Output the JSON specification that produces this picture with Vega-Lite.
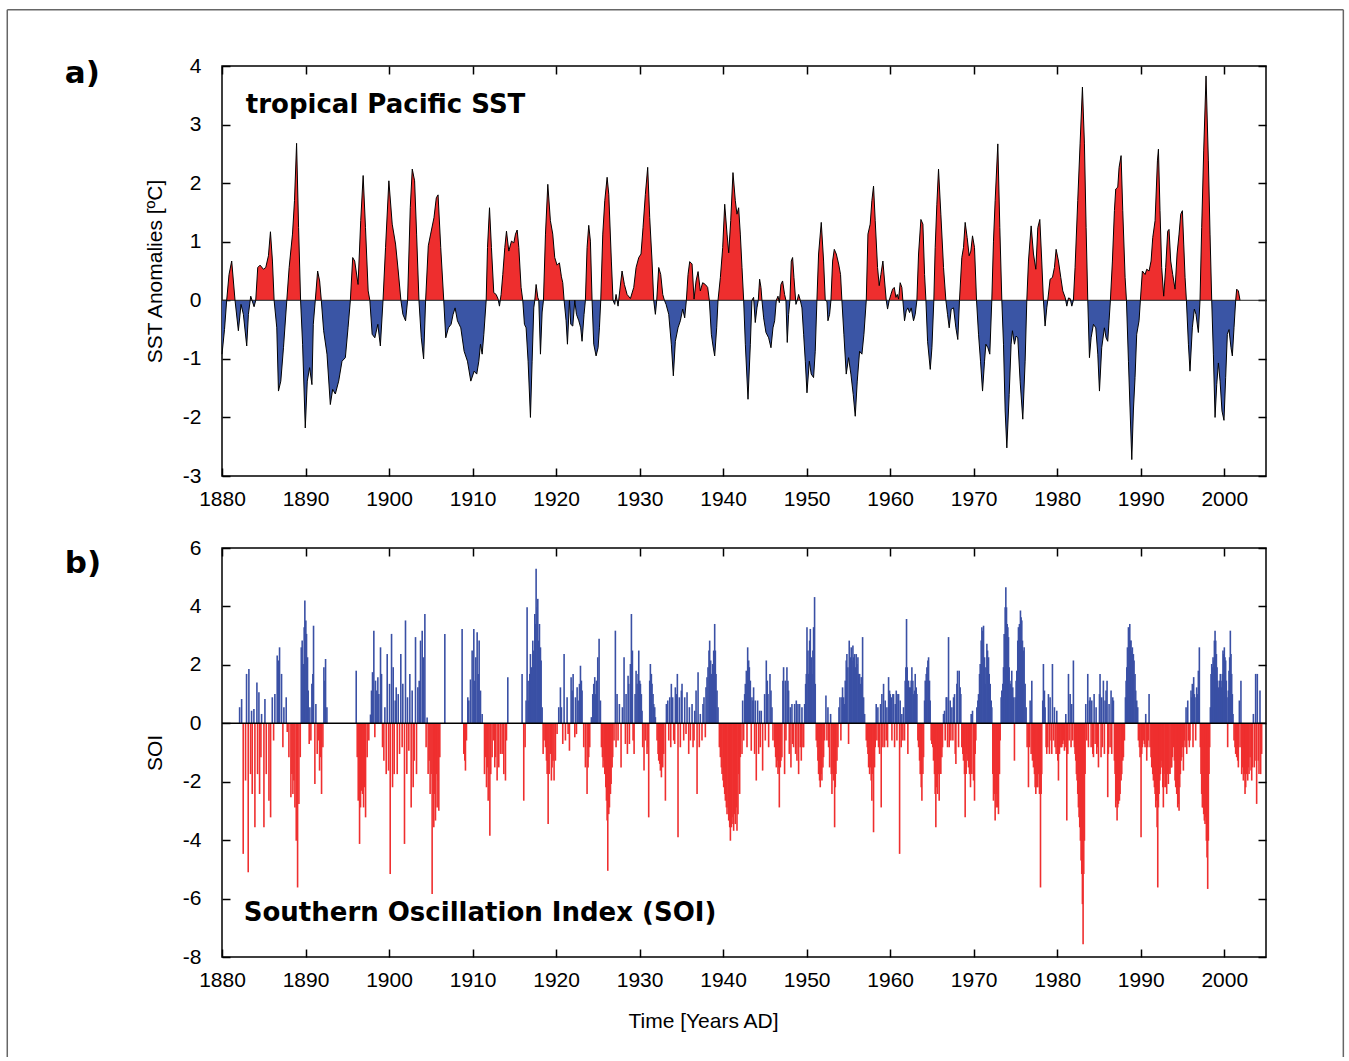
{
"$schema": "https://vega.github.io/schema/vega-lite/v6.json",
"background": "white",
"padding": {"left": 5, "top": 8, "right": 0, "bottom": 0},
"bounds": "flush",
"spacing": 72,
"config": {
  "view": {"stroke": "#000", "strokeWidth": 1.5},
  "axis": {"domain": false, "grid": false, "ticks": true, "tickSize": -8, "tickWidth": 1.5, "tickColor": "#000",
    "labelFont": "Liberation Sans", "labelFontSize": 21, "labelColor": "#000", "labelFlush": false, "labelOverlap": false,
    "titleFont": "Liberation Sans", "titleFontSize": 21, "titleFontWeight": "normal", "titleColor": "#000"}
},
"datasets": {
"sst": [
{"t":1880.0,"v":-0.92},{"t":1880.3,"v":-0.5},{"t":1880.56,"v":0},{"t":1880.84,"v":0.44},{"t":1881.16,"v":0.67},{"t":1881.56,"v":0},{"t":1881.96,"v":-0.52},{"t":1882.28,"v":-0.07},{"t":1882.56,"v":-0.24},{"t":1882.96,"v":-0.78},{"t":1883.16,"v":-0.24},{"t":1883.44,"v":0.07},{"t":1883.84,"v":-0.11},{"t":1884.04,"v":0},{"t":1884.28,"v":0.56},{"t":1884.56,"v":0.6},{"t":1884.96,"v":0.53},{"t":1885.24,"v":0.56},{"t":1885.56,"v":0.76},{"t":1885.8,"v":1.17},{"t":1886.04,"v":0.67},{"t":1886.24,"v":0},{"t":1886.56,"v":-0.47},{"t":1886.76,"v":-1.55},{"t":1887.04,"v":-1.38},{"t":1887.36,"v":-0.81},{"t":1887.76,"v":0},{"t":1888.04,"v":0.56},{"t":1888.44,"v":1.13},{"t":1888.68,"v":1.7},{"t":1888.93,"v":2.68},{"t":1889.17,"v":1.24},{"t":1889.41,"v":0},{"t":1889.65,"v":-0.75},{"t":1889.97,"v":-2.18},{"t":1890.21,"v":-1.38},{"t":1890.49,"v":-1.15},{"t":1890.77,"v":-1.44},{"t":1890.93,"v":-0.41},{"t":1891.17,"v":0},{"t":1891.45,"v":0.5},{"t":1891.69,"v":0.33},{"t":1891.89,"v":0},{"t":1892.17,"v":-0.52},{"t":1892.57,"v":-0.92},{"t":1892.97,"v":-1.78},{"t":1893.25,"v":-1.52},{"t":1893.57,"v":-1.6},{"t":1893.97,"v":-1.38},{"t":1894.37,"v":-1.04},{"t":1894.77,"v":-0.98},{"t":1895.09,"v":-0.47},{"t":1895.37,"v":0},{"t":1895.65,"v":0.73},{"t":1895.89,"v":0.67},{"t":1896.29,"v":0.27},{"t":1896.61,"v":1.36},{"t":1896.9,"v":2.13},{"t":1897.18,"v":1.24},{"t":1897.5,"v":0.16},{"t":1897.7,"v":0},{"t":1897.98,"v":-0.58},{"t":1898.3,"v":-0.64},{"t":1898.66,"v":-0.41},{"t":1898.96,"v":-0.78},{"t":1899.28,"v":0},{"t":1899.58,"v":0.9},{"t":1899.98,"v":2.04},{"t":1900.38,"v":1.3},{"t":1900.78,"v":0.96},{"t":1901.1,"v":0.5},{"t":1901.42,"v":0},{"t":1901.66,"v":-0.24},{"t":1901.98,"v":-0.35},{"t":1902.22,"v":0},{"t":1902.54,"v":1.58},{"t":1902.78,"v":2.24},{"t":1903.06,"v":2.04},{"t":1903.3,"v":1.13},{"t":1903.58,"v":0},{"t":1903.86,"v":-0.64},{"t":1904.14,"v":-1.0},{"t":1904.38,"v":0},{"t":1904.7,"v":0.93},{"t":1904.98,"v":1.13},{"t":1905.38,"v":1.41},{"t":1905.66,"v":1.75},{"t":1905.87,"v":1.8},{"t":1906.19,"v":0.9},{"t":1906.55,"v":0},{"t":1906.79,"v":-0.64},{"t":1907.11,"v":-0.47},{"t":1907.43,"v":-0.41},{"t":1907.67,"v":-0.24},{"t":1907.91,"v":-0.13},{"t":1908.19,"v":-0.35},{"t":1908.59,"v":-0.47},{"t":1908.99,"v":-0.87},{"t":1909.39,"v":-1.04},{"t":1909.79,"v":-1.38},{"t":1910.19,"v":-1.21},{"t":1910.5,"v":-1.26},{"t":1910.75,"v":-1.04},{"t":1910.95,"v":-0.75},{"t":1911.15,"v":-0.92},{"t":1911.35,"v":-0.58},{"t":1911.63,"v":0},{"t":1911.79,"v":0.9},{"t":1912.03,"v":1.58},{"t":1912.26,"v":0.9},{"t":1912.54,"v":0.13},{"t":1912.82,"v":0.1},{"t":1913.06,"v":0.02},{"t":1913.22,"v":-0.1},{"t":1913.42,"v":0.1},{"t":1913.62,"v":0.44},{"t":1913.86,"v":0.9},{"t":1914.06,"v":1.18},{"t":1914.34,"v":0.84},{"t":1914.66,"v":1.01},{"t":1914.94,"v":0.98},{"t":1915.14,"v":1.13},{"t":1915.34,"v":1.2},{"t":1915.54,"v":0.9},{"t":1915.81,"v":0.22},{"t":1916.01,"v":0},{"t":1916.21,"v":-0.41},{"t":1916.41,"v":-0.47},{"t":1916.65,"v":-1.04},{"t":1916.93,"v":-2.0},{"t":1917.13,"v":-1.04},{"t":1917.33,"v":-0.13},{"t":1917.45,"v":0},{"t":1917.61,"v":0.27},{"t":1917.81,"v":0.05},{"t":1917.93,"v":0},{"t":1918.13,"v":-0.92},{"t":1918.33,"v":-0.2},{"t":1918.49,"v":0},{"t":1918.73,"v":1.13},{"t":1919.01,"v":1.98},{"t":1919.32,"v":1.36},{"t":1919.6,"v":1.13},{"t":1919.84,"v":0.73},{"t":1920.12,"v":0.6},{"t":1920.4,"v":0.64},{"t":1920.64,"v":0.4},{"t":1920.8,"v":0.3},{"t":1920.96,"v":0},{"t":1921.2,"v":-0.35},{"t":1921.36,"v":-0.75},{"t":1921.6,"v":0},{"t":1921.76,"v":-0.41},{"t":1922.0,"v":-0.44},{"t":1922.24,"v":0},{"t":1922.44,"v":-0.24},{"t":1922.72,"v":-0.35},{"t":1922.95,"v":-0.47},{"t":1923.11,"v":-0.7},{"t":1923.35,"v":-0.24},{"t":1923.51,"v":0},{"t":1923.71,"v":0.9},{"t":1923.91,"v":1.28},{"t":1924.11,"v":1.01},{"t":1924.31,"v":0},{"t":1924.51,"v":-0.75},{"t":1924.79,"v":-0.95},{"t":1925.03,"v":-0.81},{"t":1925.19,"v":-0.47},{"t":1925.35,"v":0},{"t":1925.59,"v":1.13},{"t":1925.83,"v":1.7},{"t":1926.11,"v":2.1},{"t":1926.31,"v":1.81},{"t":1926.62,"v":0.67},{"t":1926.82,"v":0},{"t":1927.02,"v":-0.07},{"t":1927.18,"v":0.1},{"t":1927.42,"v":-0.1},{"t":1927.62,"v":0.16},{"t":1927.9,"v":0.5},{"t":1928.18,"v":0.27},{"t":1928.5,"v":0.1},{"t":1928.9,"v":0.03},{"t":1929.3,"v":0.22},{"t":1929.58,"v":0.56},{"t":1929.9,"v":0.73},{"t":1930.17,"v":0.79},{"t":1930.41,"v":1.24},{"t":1930.69,"v":1.81},{"t":1930.97,"v":2.27},{"t":1931.21,"v":1.41},{"t":1931.49,"v":0.67},{"t":1931.69,"v":0},{"t":1931.89,"v":-0.24},{"t":1932.05,"v":0},{"t":1932.29,"v":0.56},{"t":1932.53,"v":0.44},{"t":1932.77,"v":0.1},{"t":1932.97,"v":0},{"t":1933.17,"v":-0.07},{"t":1933.49,"v":-0.24},{"t":1933.8,"v":-0.75},{"t":1934.04,"v":-1.29},{"t":1934.28,"v":-0.7},{"t":1934.6,"v":-0.47},{"t":1934.88,"v":-0.35},{"t":1935.16,"v":-0.15},{"t":1935.4,"v":-0.3},{"t":1935.6,"v":0},{"t":1935.8,"v":0.44},{"t":1936.0,"v":0.66},{"t":1936.28,"v":0.62},{"t":1936.52,"v":0.02},{"t":1936.76,"v":0.33},{"t":1937.0,"v":0.49},{"t":1937.27,"v":0.16},{"t":1937.55,"v":0.3},{"t":1937.87,"v":0.27},{"t":1938.15,"v":0.22},{"t":1938.35,"v":0},{"t":1938.59,"v":-0.58},{"t":1938.79,"v":-0.78},{"t":1938.99,"v":-0.95},{"t":1939.23,"v":-0.47},{"t":1939.39,"v":0},{"t":1939.67,"v":0.39},{"t":1939.95,"v":0.9},{"t":1940.19,"v":1.64},{"t":1940.47,"v":1.13},{"t":1940.67,"v":0.81},{"t":1940.91,"v":1.36},{"t":1941.18,"v":2.18},{"t":1941.46,"v":1.7},{"t":1941.66,"v":1.47},{"t":1941.86,"v":1.58},{"t":1942.06,"v":1.13},{"t":1942.26,"v":0.56},{"t":1942.46,"v":0},{"t":1942.66,"v":-0.75},{"t":1942.98,"v":-1.69},{"t":1943.26,"v":-0.75},{"t":1943.45,"v":0},{"t":1943.65,"v":0.05},{"t":1943.85,"v":-0.38},{"t":1944.05,"v":-0.13},{"t":1944.21,"v":0},{"t":1944.37,"v":0.36},{"t":1944.53,"v":0.22},{"t":1944.65,"v":0},{"t":1944.85,"v":-0.3},{"t":1945.13,"v":-0.55},{"t":1945.45,"v":-0.64},{"t":1945.73,"v":-0.81},{"t":1945.97,"v":-0.47},{"t":1946.17,"v":-0.35},{"t":1946.37,"v":0},{"t":1946.57,"v":0.07},{"t":1946.73,"v":-0.04},{"t":1946.92,"v":0.27},{"t":1947.12,"v":0.33},{"t":1947.36,"v":0.1},{"t":1947.52,"v":0},{"t":1947.68,"v":-0.72},{"t":1947.84,"v":-0.24},{"t":1948.0,"v":0},{"t":1948.16,"v":0.67},{"t":1948.32,"v":0.73},{"t":1948.48,"v":0.39},{"t":1948.72,"v":-0.07},{"t":1948.88,"v":0},{"t":1949.04,"v":0.1},{"t":1949.24,"v":0},{"t":1949.44,"v":-0.13},{"t":1949.64,"v":-0.58},{"t":1949.84,"v":-1.04},{"t":1950.04,"v":-1.58},{"t":1950.32,"v":-1.04},{"t":1950.55,"v":-1.26},{"t":1950.83,"v":-1.32},{"t":1951.03,"v":-0.87},{"t":1951.23,"v":0},{"t":1951.43,"v":0.79},{"t":1951.75,"v":1.33},{"t":1952.03,"v":0.67},{"t":1952.23,"v":0},{"t":1952.43,"v":-0.02},{"t":1952.55,"v":-0.35},{"t":1952.75,"v":-0.24},{"t":1952.91,"v":0},{"t":1953.11,"v":0.67},{"t":1953.31,"v":0.87},{"t":1953.55,"v":0.79},{"t":1953.83,"v":0.62},{"t":1954.06,"v":0.44},{"t":1954.22,"v":0},{"t":1954.46,"v":-0.58},{"t":1954.74,"v":-1.26},{"t":1955.02,"v":-0.98},{"t":1955.3,"v":-1.26},{"t":1955.58,"v":-1.61},{"t":1955.82,"v":-1.98},{"t":1956.06,"v":-1.38},{"t":1956.34,"v":-0.87},{"t":1956.62,"v":-0.92},{"t":1956.86,"v":-0.58},{"t":1957.14,"v":0},{"t":1957.34,"v":1.13},{"t":1957.61,"v":1.3},{"t":1957.81,"v":1.7},{"t":1958.01,"v":1.95},{"t":1958.21,"v":1.36},{"t":1958.49,"v":0.56},{"t":1958.69,"v":0.25},{"t":1958.89,"v":0.44},{"t":1959.13,"v":0.67},{"t":1959.33,"v":0.33},{"t":1959.53,"v":0},{"t":1959.69,"v":-0.15},{"t":1959.89,"v":0},{"t":1960.09,"v":0.1},{"t":1960.29,"v":0.19},{"t":1960.49,"v":0.22},{"t":1960.69,"v":0.05},{"t":1960.85,"v":0.1},{"t":1961.01,"v":0.02},{"t":1961.2,"v":0.3},{"t":1961.4,"v":0.22},{"t":1961.52,"v":0},{"t":1961.72,"v":-0.35},{"t":1961.92,"v":-0.18},{"t":1962.12,"v":-0.13},{"t":1962.32,"v":-0.21},{"t":1962.52,"v":-0.13},{"t":1962.8,"v":-0.35},{"t":1963.0,"v":-0.24},{"t":1963.2,"v":0},{"t":1963.4,"v":0.79},{"t":1963.68,"v":1.38},{"t":1963.92,"v":1.3},{"t":1964.12,"v":0.44},{"t":1964.28,"v":0},{"t":1964.48,"v":-0.7},{"t":1964.8,"v":-1.18},{"t":1965.0,"v":-0.81},{"t":1965.23,"v":0},{"t":1965.39,"v":0.9},{"t":1965.59,"v":1.64},{"t":1965.79,"v":2.24},{"t":1966.07,"v":1.47},{"t":1966.39,"v":0.56},{"t":1966.67,"v":0},{"t":1966.87,"v":-0.24},{"t":1967.07,"v":-0.47},{"t":1967.31,"v":-0.15},{"t":1967.59,"v":-0.13},{"t":1967.87,"v":-0.47},{"t":1968.1,"v":-0.67},{"t":1968.3,"v":0},{"t":1968.58,"v":0.73},{"t":1968.78,"v":0.9},{"t":1968.98,"v":1.33},{"t":1969.22,"v":1.07},{"t":1969.46,"v":0.76},{"t":1969.66,"v":0.84},{"t":1969.86,"v":1.1},{"t":1970.1,"v":0.9},{"t":1970.34,"v":0},{"t":1970.58,"v":-0.58},{"t":1970.82,"v":-1.04},{"t":1971.06,"v":-1.55},{"t":1971.3,"v":-1.04},{"t":1971.46,"v":-0.75},{"t":1971.7,"v":-0.81},{"t":1971.93,"v":-0.92},{"t":1972.17,"v":0},{"t":1972.37,"v":1.01},{"t":1972.57,"v":1.7},{"t":1972.89,"v":2.67},{"t":1973.13,"v":1.24},{"t":1973.37,"v":0},{"t":1973.57,"v":-0.75},{"t":1973.77,"v":-1.89},{"t":1973.97,"v":-2.52},{"t":1974.25,"v":-1.61},{"t":1974.48,"v":-0.75},{"t":1974.64,"v":-0.52},{"t":1974.88,"v":-0.75},{"t":1975.08,"v":-0.61},{"t":1975.28,"v":-0.64},{"t":1975.56,"v":-1.38},{"t":1975.88,"v":-2.03},{"t":1976.16,"v":-1.04},{"t":1976.36,"v":0},{"t":1976.56,"v":0.67},{"t":1976.88,"v":1.27},{"t":1977.16,"v":0.79},{"t":1977.44,"v":0.53},{"t":1977.68,"v":1.24},{"t":1977.92,"v":1.38},{"t":1978.15,"v":0.67},{"t":1978.35,"v":0},{"t":1978.55,"v":-0.44},{"t":1978.75,"v":-0.13},{"t":1978.87,"v":0},{"t":1979.15,"v":0.36},{"t":1979.43,"v":0.39},{"t":1979.67,"v":0.56},{"t":1979.87,"v":0.87},{"t":1980.15,"v":0.67},{"t":1980.43,"v":0.39},{"t":1980.67,"v":0.16},{"t":1980.95,"v":0.05},{"t":1981.15,"v":-0.1},{"t":1981.35,"v":0.04},{"t":1981.55,"v":0.03},{"t":1981.75,"v":-0.1},{"t":1981.94,"v":0},{"t":1982.14,"v":0.56},{"t":1982.46,"v":1.7},{"t":1982.74,"v":2.67},{"t":1983.02,"v":3.64},{"t":1983.26,"v":2.67},{"t":1983.46,"v":1.24},{"t":1983.66,"v":0},{"t":1983.86,"v":-0.98},{"t":1984.06,"v":-0.64},{"t":1984.34,"v":-0.41},{"t":1984.62,"v":-0.47},{"t":1984.86,"v":-0.92},{"t":1985.06,"v":-1.55},{"t":1985.33,"v":-0.81},{"t":1985.65,"v":-0.47},{"t":1985.85,"v":-0.64},{"t":1986.05,"v":-0.7},{"t":1986.21,"v":-0.35},{"t":1986.37,"v":0},{"t":1986.61,"v":0.67},{"t":1986.85,"v":1.53},{"t":1987.01,"v":1.9},{"t":1987.25,"v":1.93},{"t":1987.41,"v":2.27},{"t":1987.65,"v":2.47},{"t":1987.85,"v":1.53},{"t":1988.13,"v":0.39},{"t":1988.29,"v":0},{"t":1988.53,"v":-1.04},{"t":1988.73,"v":-1.89},{"t":1988.93,"v":-2.72},{"t":1989.12,"v":-1.89},{"t":1989.32,"v":-1.32},{"t":1989.52,"v":-0.58},{"t":1989.8,"v":-0.35},{"t":1989.96,"v":0},{"t":1990.2,"v":0.5},{"t":1990.52,"v":0.44},{"t":1990.72,"v":0.53},{"t":1991.0,"v":0.5},{"t":1991.24,"v":0.67},{"t":1991.44,"v":1.07},{"t":1991.72,"v":1.36},{"t":1992.0,"v":2.38},{"t":1992.12,"v":2.58},{"t":1992.31,"v":1.53},{"t":1992.51,"v":0.56},{"t":1992.75,"v":0.07},{"t":1992.99,"v":0.56},{"t":1993.23,"v":1.18},{"t":1993.39,"v":1.21},{"t":1993.59,"v":0.67},{"t":1993.83,"v":0.44},{"t":1994.11,"v":0.19},{"t":1994.35,"v":0.79},{"t":1994.59,"v":1.13},{"t":1994.79,"v":1.47},{"t":1994.99,"v":1.53},{"t":1995.15,"v":0.96},{"t":1995.31,"v":0.39},{"t":1995.47,"v":0},{"t":1995.71,"v":-0.75},{"t":1995.9,"v":-1.21},{"t":1996.18,"v":-0.47},{"t":1996.42,"v":-0.15},{"t":1996.62,"v":-0.24},{"t":1996.9,"v":-0.55},{"t":1997.1,"v":0},{"t":1997.3,"v":1.24},{"t":1997.54,"v":2.55},{"t":1997.82,"v":3.83},{"t":1998.1,"v":2.38},{"t":1998.3,"v":1.13},{"t":1998.5,"v":0},{"t":1998.7,"v":-0.92},{"t":1998.9,"v":-2.0},{"t":1999.1,"v":-1.44},{"t":1999.3,"v":-1.07},{"t":1999.5,"v":-1.38},{"t":1999.73,"v":-1.89},{"t":1999.97,"v":-2.05},{"t":2000.17,"v":-1.32},{"t":2000.37,"v":-0.58},{"t":2000.57,"v":-0.5},{"t":2000.81,"v":-0.81},{"t":2000.97,"v":-0.95},{"t":2001.17,"v":-0.47},{"t":2001.37,"v":0},{"t":2001.49,"v":0.19},{"t":2001.69,"v":0.16},{"t":2001.89,"v":0}
],
"soi": [
{"t":1882.11,"v":0.55},{"t":1882.35,"v":0.83},{"t":1882.54,"v":-4.47},{"t":1882.82,"v":-1.96},{"t":1882.94,"v":1.69},{"t":1883.14,"v":-5.1},{"t":1883.22,"v":1.86},{"t":1883.42,"v":-1.74},{"t":1883.54,"v":0.43},{"t":1883.62,"v":-2.42},{"t":1883.82,"v":0.49},{"t":1883.94,"v":-3.56},{"t":1884.18,"v":1.4},{"t":1884.26,"v":-1.74},{"t":1884.42,"v":1.06},{"t":1884.5,"v":-2.42},{"t":1884.66,"v":-1.16},{"t":1884.74,"v":0.32},{"t":1885.02,"v":-3.56},{"t":1885.14,"v":0.83},{"t":1885.3,"v":-1.74},{"t":1885.62,"v":-2.65},{"t":1885.82,"v":-3.22},{"t":1886.02,"v":0.89},{"t":1886.18,"v":-0.59},{"t":1886.33,"v":1.0},{"t":1886.61,"v":2.32},{"t":1886.77,"v":2.15},{"t":1886.89,"v":2.6},{"t":1887.13,"v":1.69},{"t":1887.29,"v":-0.82},{"t":1887.41,"v":0.55},{"t":1887.69,"v":0.89},{"t":1887.81,"v":-0.3},{"t":1888.01,"v":-1.16},{"t":1888.25,"v":-2.53},{"t":1888.37,"v":-1.74},{"t":1888.49,"v":-2.42},{"t":1888.61,"v":-1.96},{"t":1888.73,"v":-2.88},{"t":1888.89,"v":-4.02},{"t":1889.05,"v":-5.62},{"t":1889.21,"v":-2.76},{"t":1889.37,"v":-1.16},{"t":1889.49,"v":2.6},{"t":1889.6,"v":2.83},{"t":1889.72,"v":2.03},{"t":1889.84,"v":3.29},{"t":1889.92,"v":4.2},{"t":1890.04,"v":3.52},{"t":1890.12,"v":3.06},{"t":1890.24,"v":2.26},{"t":1890.32,"v":1.12},{"t":1890.44,"v":-0.71},{"t":1890.52,"v":0.55},{"t":1890.64,"v":-0.59},{"t":1890.76,"v":1.35},{"t":1890.88,"v":1.69},{"t":1890.96,"v":3.34},{"t":1891.12,"v":-2.08},{"t":1891.24,"v":0.66},{"t":1891.4,"v":-1.05},{"t":1891.52,"v":-0.59},{"t":1891.68,"v":-1.62},{"t":1891.8,"v":-1.16},{"t":1891.92,"v":-2.42},{"t":1892.08,"v":-0.82},{"t":1892.2,"v":1.92},{"t":1892.32,"v":1.46},{"t":1892.4,"v":2.2},{"t":1892.56,"v":0.55},
{"t":1896.07,"v":1.8},{"t":1896.19,"v":-1.16},{"t":1896.31,"v":-2.65},{"t":1896.47,"v":-4.13},{"t":1896.59,"v":-2.88},{"t":1896.71,"v":-2.31},{"t":1896.83,"v":-2.42},{"t":1896.95,"v":-2.88},{"t":1897.07,"v":-2.19},{"t":1897.19,"v":-3.22},{"t":1897.38,"v":-1.16},{"t":1897.58,"v":-0.59},{"t":1897.78,"v":0.3},{"t":1897.9,"v":1.12},{"t":1898.02,"v":1.75},{"t":1898.18,"v":3.17},{"t":1898.3,"v":-0.48},{"t":1898.38,"v":1.46},{"t":1898.54,"v":1.12},{"t":1898.66,"v":1.58},{"t":1898.78,"v":1.0},{"t":1898.98,"v":2.6},{"t":1899.1,"v":1.69},{"t":1899.22,"v":-0.82},{"t":1899.38,"v":-1.28},{"t":1899.5,"v":0.55},{"t":1899.66,"v":-1.74},{"t":1899.78,"v":2.37},{"t":1899.94,"v":-1.62},{"t":1900.06,"v":1.35},{"t":1900.14,"v":-5.16},{"t":1900.3,"v":3.06},{"t":1900.42,"v":-2.19},{"t":1900.5,"v":1.92},{"t":1900.62,"v":-1.74},{"t":1900.74,"v":0.78},{"t":1900.86,"v":1.23},{"t":1900.98,"v":-1.74},{"t":1901.1,"v":1.0},{"t":1901.26,"v":-1.05},{"t":1901.41,"v":2.37},{"t":1901.57,"v":-0.82},{"t":1901.65,"v":1.35},{"t":1901.85,"v":-4.13},{"t":1901.97,"v":3.52},{"t":1902.13,"v":-1.74},{"t":1902.21,"v":0.89},{"t":1902.37,"v":-0.94},{"t":1902.49,"v":1.69},{"t":1902.65,"v":-2.88},{"t":1902.77,"v":1.12},{"t":1902.89,"v":-2.19},{"t":1903.01,"v":-1.28},{"t":1903.17,"v":2.95},{"t":1903.29,"v":-1.74},{"t":1903.45,"v":1.23},{"t":1903.61,"v":1.46},{"t":1903.77,"v":2.83},{"t":1903.97,"v":3.17},{"t":1904.13,"v":2.26},{"t":1904.29,"v":3.74},{"t":1904.44,"v":-0.82},{"t":1904.56,"v":0.2},{"t":1904.68,"v":-1.74},{"t":1904.8,"v":-1.28},{"t":1904.92,"v":-2.42},{"t":1905.04,"v":-1.74},{"t":1905.16,"v":-5.84},{"t":1905.28,"v":-2.42},{"t":1905.36,"v":-3.56},{"t":1905.48,"v":-2.42},{"t":1905.56,"v":-3.33},{"t":1905.68,"v":-1.74},{"t":1905.76,"v":-2.88},{"t":1905.88,"v":-1.96},{"t":1905.96,"v":-2.99},{"t":1906.08,"v":-1.16},{"t":1906.68,"v":3.06},{"t":1908.75,"v":3.23},{"t":1908.95,"v":-1.05},{"t":1909.07,"v":-1.28},{"t":1909.15,"v":-1.62},{"t":1909.27,"v":-0.59},{"t":1909.43,"v":0.89},{"t":1909.55,"v":0.78},{"t":1909.75,"v":1.5},{"t":1909.95,"v":2.49},{"t":1910.15,"v":3.23},{"t":1910.27,"v":1.46},{"t":1910.39,"v":2.26},{"t":1910.55,"v":3.12},{"t":1910.67,"v":1.69},{"t":1910.79,"v":2.83},{"t":1910.95,"v":1.12},{"t":1911.15,"v":0.32},{"t":1911.43,"v":-1.74},{"t":1911.55,"v":-1.16},{"t":1911.67,"v":-2.19},{"t":1911.79,"v":-1.51},{"t":1911.87,"v":-2.65},{"t":1912.07,"v":-3.85},{"t":1912.18,"v":-1.74},{"t":1912.34,"v":-1.16},{"t":1912.54,"v":-0.59},{"t":1912.66,"v":-1.51},{"t":1912.74,"v":-1.16},{"t":1912.94,"v":-1.96},{"t":1913.14,"v":-1.51},{"t":1913.34,"v":-1.05},{"t":1913.54,"v":-1.05},{"t":1913.74,"v":-1.74},{"t":1913.94,"v":-1.96},{"t":1914.06,"v":-0.59},{"t":1914.22,"v":1.58},
{"t":1915.93,"v":1.69},{"t":1916.13,"v":-2.65},{"t":1916.29,"v":-0.82},{"t":1916.41,"v":0.78},{"t":1916.53,"v":3.97},{"t":1916.65,"v":1.46},{"t":1916.73,"v":0.78},{"t":1916.85,"v":1.69},{"t":1916.93,"v":2.37},{"t":1917.05,"v":1.92},{"t":1917.21,"v":2.83},{"t":1917.33,"v":2.49},{"t":1917.45,"v":3.74},{"t":1917.53,"v":3.4},{"t":1917.61,"v":5.29},{"t":1917.73,"v":3.97},{"t":1917.81,"v":4.26},{"t":1917.93,"v":2.83},{"t":1918.01,"v":3.4},{"t":1918.13,"v":2.6},{"t":1918.21,"v":2.15},{"t":1918.33,"v":0.55},{"t":1918.45,"v":-1.05},{"t":1918.57,"v":-0.59},{"t":1918.73,"v":-0.82},{"t":1918.85,"v":-1.28},{"t":1918.93,"v":-1.74},{"t":1919.05,"v":-3.45},{"t":1919.17,"v":-1.74},{"t":1919.32,"v":-1.05},{"t":1919.44,"v":-1.96},{"t":1919.52,"v":-1.51},{"t":1919.64,"v":-1.28},{"t":1919.76,"v":-1.96},{"t":1919.92,"v":-1.28},{"t":1920.12,"v":-0.37},{"t":1920.32,"v":0.55},{"t":1920.52,"v":1.23},{"t":1920.64,"v":0.55},{"t":1920.8,"v":-0.71},{"t":1920.96,"v":2.37},{"t":1921.12,"v":-0.59},{"t":1921.32,"v":0.89},{"t":1921.44,"v":-0.37},{"t":1921.6,"v":-0.94},{"t":1921.8,"v":1.58},{"t":1921.92,"v":1.12},{"t":1922.04,"v":1.69},{"t":1922.24,"v":-0.48},{"t":1922.32,"v":0.89},{"t":1922.44,"v":-0.37},{"t":1922.52,"v":1.23},{"t":1922.64,"v":0.78},{"t":1922.8,"v":1.35},{"t":1922.92,"v":1.97},{"t":1923.03,"v":1.46},{"t":1923.11,"v":1.12},{"t":1923.31,"v":-0.82},{"t":1923.51,"v":-1.51},{"t":1923.71,"v":-2.42},{"t":1923.83,"v":-1.51},{"t":1923.91,"v":-1.16},{"t":1924.03,"v":-0.82},{"t":1924.23,"v":0.21},{"t":1924.39,"v":1.0},{"t":1924.51,"v":1.35},{"t":1924.63,"v":1.58},{"t":1924.75,"v":1.0},{"t":1924.83,"v":1.46},{"t":1924.99,"v":2.26},{"t":1925.15,"v":2.89},{"t":1925.31,"v":0.78},{"t":1925.43,"v":-0.82},{"t":1925.55,"v":-1.16},{"t":1925.63,"v":-1.51},{"t":1925.75,"v":-1.28},{"t":1925.83,"v":-1.74},{"t":1925.95,"v":-2.19},{"t":1926.03,"v":-2.65},{"t":1926.11,"v":-3.33},{"t":1926.19,"v":-5.05},{"t":1926.31,"v":-3.11},{"t":1926.39,"v":-2.88},{"t":1926.51,"v":-2.42},{"t":1926.59,"v":-2.08},{"t":1926.71,"v":-1.51},{"t":1926.78,"v":-1.16},{"t":1926.94,"v":-0.59},{"t":1927.1,"v":3.17},{"t":1927.18,"v":-0.82},{"t":1927.3,"v":1.0},{"t":1927.42,"v":-0.59},{"t":1927.58,"v":0.66},{"t":1927.78,"v":-1.51},{"t":1927.94,"v":0.55},{"t":1928.14,"v":2.26},{"t":1928.3,"v":-0.71},{"t":1928.38,"v":1.0},{"t":1928.54,"v":-1.05},{"t":1928.62,"v":1.63},{"t":1928.7,"v":1.35},{"t":1928.78,"v":-0.71},{"t":1928.9,"v":2.03},{"t":1929.02,"v":3.74},{"t":1929.14,"v":2.49},{"t":1929.22,"v":-0.59},{"t":1929.34,"v":-1.05},{"t":1929.46,"v":1.0},{"t":1929.58,"v":1.8},{"t":1929.7,"v":1.35},{"t":1929.82,"v":1.69},{"t":1929.9,"v":2.49},{"t":1930.02,"v":1.46},{"t":1930.1,"v":1.35},{"t":1930.21,"v":1.0},{"t":1930.29,"v":0.43},{"t":1930.37,"v":-0.82},{"t":1930.53,"v":-1.62},{"t":1930.69,"v":-0.59},{"t":1930.89,"v":-1.05},{"t":1931.01,"v":-0.82},{"t":1931.09,"v":-3.22},{"t":1931.21,"v":1.46},{"t":1931.29,"v":2.03},{"t":1931.41,"v":1.69},{"t":1931.49,"v":1.35},{"t":1931.61,"v":1.0},{"t":1931.69,"v":0.66},{"t":1931.81,"v":0.55},{"t":1931.89,"v":0.21},{"t":1932.09,"v":-0.59},{"t":1932.21,"v":-1.05},{"t":1932.29,"v":-1.28},{"t":1932.41,"v":-1.39},{"t":1932.49,"v":-1.62},{"t":1932.61,"v":-1.85},{"t":1932.77,"v":-1.51},{"t":1932.89,"v":-1.05},{"t":1933.09,"v":-2.65},{"t":1933.21,"v":0.66},{"t":1933.37,"v":0.78},{"t":1933.49,"v":-0.59},{"t":1933.61,"v":0.89},{"t":1933.73,"v":-0.82},{"t":1933.8,"v":1.35},{"t":1933.96,"v":0.89},{"t":1934.08,"v":-0.59},{"t":1934.2,"v":-0.71},{"t":1934.28,"v":1.23},{"t":1934.4,"v":1.0},{"t":1934.52,"v":1.69},{"t":1934.6,"v":-3.9},{"t":1934.76,"v":0.89},{"t":1934.88,"v":-0.82},{"t":1935.0,"v":1.12},{"t":1935.08,"v":1.35},{"t":1935.28,"v":-0.59},{"t":1935.4,"v":0.89},{"t":1935.56,"v":-0.37},{"t":1935.68,"v":1.06},{"t":1935.88,"v":-1.05},{"t":1935.96,"v":0.55},{"t":1936.08,"v":-0.59},{"t":1936.28,"v":0.66},{"t":1936.4,"v":-0.82},{"t":1936.52,"v":-0.59},{"t":1936.6,"v":0.43},{"t":1936.76,"v":1.12},{"t":1936.88,"v":-2.42},{"t":1937.0,"v":1.75},{"t":1937.15,"v":-0.82},{"t":1937.27,"v":0.32},{"t":1937.47,"v":-0.59},{"t":1937.59,"v":0.66},{"t":1937.71,"v":0.89},{"t":1937.87,"v":-0.48},{"t":1937.95,"v":1.23},{"t":1938.07,"v":1.58},{"t":1938.19,"v":1.92},{"t":1938.31,"v":2.49},{"t":1938.39,"v":2.83},{"t":1938.51,"v":2.15},{"t":1938.63,"v":1.69},{"t":1938.75,"v":2.03},{"t":1938.87,"v":2.49},{"t":1938.99,"v":3.4},{"t":1939.07,"v":2.49},{"t":1939.15,"v":1.69},{"t":1939.27,"v":1.12},{"t":1939.39,"v":0.55},{"t":1939.55,"v":-0.82},{"t":1939.67,"v":-1.16},{"t":1939.79,"v":-1.51},{"t":1939.87,"v":-1.74},{"t":1939.99,"v":-1.96},{"t":1940.07,"v":-2.19},{"t":1940.19,"v":-2.42},{"t":1940.27,"v":-2.65},{"t":1940.39,"v":-2.88},{"t":1940.47,"v":-3.11},{"t":1940.59,"v":-2.88},{"t":1940.67,"v":-3.33},{"t":1940.79,"v":-3.56},{"t":1940.87,"v":-4.02},{"t":1940.99,"v":-3.56},{"t":1941.06,"v":-3.22},{"t":1941.18,"v":-3.45},{"t":1941.26,"v":-3.68},{"t":1941.38,"v":-3.11},{"t":1941.46,"v":-3.45},{"t":1941.58,"v":-2.88},{"t":1941.66,"v":-3.68},{"t":1941.78,"v":-3.11},{"t":1941.86,"v":-1.74},{"t":1941.98,"v":-2.42},{"t":1942.06,"v":-1.16},
{"t":1942.26,"v":-1.05},{"t":1942.34,"v":0.78},{"t":1942.46,"v":-0.59},{"t":1942.58,"v":1.0},{"t":1942.66,"v":1.35},{"t":1942.78,"v":1.8},{"t":1942.86,"v":-0.82},{"t":1942.94,"v":2.6},{"t":1943.06,"v":2.15},{"t":1943.14,"v":1.92},{"t":1943.26,"v":1.46},{"t":1943.37,"v":-0.94},{"t":1943.45,"v":0.89},{"t":1943.57,"v":0.78},{"t":1943.65,"v":1.23},{"t":1943.77,"v":-1.05},{"t":1943.85,"v":0.78},{"t":1943.97,"v":-1.96},{"t":1944.13,"v":0.78},{"t":1944.25,"v":-1.05},{"t":1944.37,"v":0.43},{"t":1944.45,"v":-0.82},{"t":1944.57,"v":0.43},{"t":1944.73,"v":-1.62},{"t":1944.97,"v":1.0},{"t":1945.05,"v":-0.59},{"t":1945.17,"v":2.15},{"t":1945.29,"v":1.46},{"t":1945.37,"v":1.0},{"t":1945.45,"v":-0.82},{"t":1945.61,"v":1.69},{"t":1945.73,"v":1.12},{"t":1945.85,"v":0.55},{"t":1945.97,"v":-0.59},{"t":1946.17,"v":-0.82},{"t":1946.29,"v":-1.16},{"t":1946.37,"v":-1.51},{"t":1946.49,"v":-1.28},{"t":1946.57,"v":-1.74},{"t":1946.65,"v":-1.51},{"t":1946.73,"v":-2.88},{"t":1946.85,"v":-1.51},{"t":1946.92,"v":-1.28},{"t":1947.04,"v":-1.16},{"t":1947.16,"v":1.46},{"t":1947.24,"v":1.92},{"t":1947.36,"v":-1.74},{"t":1947.44,"v":1.46},{"t":1947.52,"v":-0.59},{"t":1947.64,"v":1.92},{"t":1947.76,"v":1.46},{"t":1947.84,"v":1.12},{"t":1947.92,"v":-1.05},{"t":1948.04,"v":0.55},{"t":1948.12,"v":-1.51},{"t":1948.24,"v":0.66},{"t":1948.32,"v":-0.71},{"t":1948.44,"v":-0.82},{"t":1948.56,"v":0.66},{"t":1948.68,"v":-1.05},{"t":1948.76,"v":0.78},{"t":1948.84,"v":-1.28},{"t":1948.96,"v":0.66},{"t":1949.04,"v":-1.74},{"t":1949.16,"v":0.66},{"t":1949.24,"v":-0.82},{"t":1949.36,"v":-1.28},{"t":1949.44,"v":0.55},{"t":1949.56,"v":-0.82},{"t":1949.64,"v":-0.82},{"t":1949.76,"v":0.66},{"t":1949.88,"v":1.35},{"t":1949.96,"v":1.69},{"t":1950.04,"v":3.29},{"t":1950.16,"v":2.49},{"t":1950.24,"v":1.69},{"t":1950.36,"v":2.83},{"t":1950.44,"v":3.23},{"t":1950.56,"v":2.26},{"t":1950.64,"v":1.69},{"t":1950.75,"v":2.49},{"t":1950.83,"v":3.29},{"t":1950.95,"v":4.32},{"t":1951.03,"v":1.35},{"t":1951.15,"v":-0.59},{"t":1951.27,"v":-0.82},{"t":1951.35,"v":-1.28},{"t":1951.43,"v":-1.74},{"t":1951.55,"v":-1.96},{"t":1951.63,"v":-2.19},{"t":1951.75,"v":-1.74},{"t":1951.83,"v":-1.96},{"t":1951.95,"v":-1.51},{"t":1952.03,"v":-1.16},{"t":1952.15,"v":-0.59},{"t":1952.31,"v":0.95},{"t":1952.43,"v":-0.59},{"t":1952.55,"v":0.55},{"t":1952.63,"v":-0.82},{"t":1952.75,"v":-1.51},{"t":1952.87,"v":0.32},{"t":1952.95,"v":-1.74},{"t":1953.03,"v":-2.42},{"t":1953.15,"v":-1.74},{"t":1953.23,"v":-1.96},{"t":1953.35,"v":-3.56},{"t":1953.43,"v":-2.19},{"t":1953.51,"v":-1.74},{"t":1953.63,"v":-1.28},{"t":1953.75,"v":-0.82},{"t":1953.87,"v":0.55},{"t":1953.99,"v":0.89},{"t":1954.1,"v":-0.59},{"t":1954.22,"v":0.89},{"t":1954.3,"v":1.23},{"t":1954.42,"v":0.89},{"t":1954.54,"v":0.66},{"t":1954.62,"v":1.46},{"t":1954.74,"v":2.15},{"t":1954.82,"v":2.37},{"t":1954.94,"v":1.92},{"t":1955.02,"v":-0.71},{"t":1955.1,"v":2.83},{"t":1955.22,"v":2.26},{"t":1955.34,"v":2.6},{"t":1955.42,"v":2.15},{"t":1955.54,"v":2.66},{"t":1955.62,"v":2.26},{"t":1955.74,"v":2.37},{"t":1955.82,"v":1.92},{"t":1955.94,"v":2.37},{"t":1956.02,"v":2.03},{"t":1956.14,"v":2.26},{"t":1956.22,"v":1.69},{"t":1956.34,"v":1.69},{"t":1956.42,"v":1.35},{"t":1956.54,"v":1.58},{"t":1956.62,"v":1.23},{"t":1956.7,"v":2.95},{"t":1956.82,"v":0.89},{"t":1956.94,"v":0.32},{"t":1957.14,"v":-0.59},{"t":1957.26,"v":-0.82},{"t":1957.34,"v":-1.05},{"t":1957.42,"v":-1.51},{"t":1957.54,"v":-1.74},{"t":1957.62,"v":-1.51},{"t":1957.73,"v":-1.96},{"t":1957.81,"v":-2.65},{"t":1957.93,"v":-1.74},{"t":1958.01,"v":-3.73},{"t":1958.13,"v":-1.51},{"t":1958.21,"v":-0.82},{"t":1958.33,"v":0.66},{"t":1958.41,"v":-0.59},{"t":1958.53,"v":0.55},{"t":1958.61,"v":-0.82},{"t":1958.73,"v":-1.05},{"t":1958.85,"v":0.66},{"t":1958.93,"v":-2.88},{"t":1959.01,"v":1.0},{"t":1959.13,"v":-0.82},{"t":1959.21,"v":1.35},{"t":1959.33,"v":-0.82},{"t":1959.41,"v":0.78},{"t":1959.53,"v":-0.59},{"t":1959.61,"v":0.55},{"t":1959.69,"v":-0.82},{"t":1959.81,"v":1.58},{"t":1959.93,"v":1.12},{"t":1960.01,"v":1.0},{"t":1960.13,"v":0.89},{"t":1960.21,"v":-0.59},{"t":1960.33,"v":1.0},{"t":1960.41,"v":1.0},{"t":1960.53,"v":-0.82},{"t":1960.61,"v":0.66},{"t":1960.73,"v":1.12},{"t":1960.81,"v":-0.59},{"t":1960.93,"v":1.0},{"t":1961.01,"v":1.0},{"t":1961.13,"v":-4.47},{"t":1961.2,"v":0.78},{"t":1961.32,"v":-0.82},{"t":1961.4,"v":0.32},{"t":1961.52,"v":-0.59},{"t":1961.6,"v":0.55},{"t":1961.72,"v":-0.59},{"t":1961.8,"v":1.46},{"t":1961.88,"v":1.92},{"t":1961.96,"v":3.57},{"t":1962.04,"v":1.92},{"t":1962.12,"v":-1.05},{"t":1962.2,"v":1.46},{"t":1962.32,"v":1.23},{"t":1962.4,"v":1.23},{"t":1962.52,"v":1.46},{"t":1962.6,"v":1.92},{"t":1962.72,"v":1.46},{"t":1962.8,"v":1.0},{"t":1962.92,"v":1.12},{"t":1963.0,"v":1.69},{"t":1963.12,"v":1.23},{"t":1963.2,"v":1.0},{"t":1963.32,"v":-0.59},{"t":1963.4,"v":-0.82},{"t":1963.52,"v":-1.28},{"t":1963.6,"v":-1.74},{"t":1963.72,"v":-2.19},{"t":1963.8,"v":-2.65},{"t":1963.92,"v":-1.74},{"t":1964.0,"v":-1.16},{"t":1964.12,"v":0.78},{"t":1964.2,"v":1.46},{"t":1964.32,"v":1.69},{"t":1964.4,"v":1.92},{"t":1964.52,"v":2.15},{"t":1964.6,"v":2.26},{"t":1964.71,"v":1.46},{"t":1964.79,"v":0.78},{"t":1964.91,"v":-0.59},{"t":1964.99,"v":-0.71},{"t":1965.11,"v":-0.82},{"t":1965.19,"v":-1.28},{"t":1965.31,"v":-1.74},{"t":1965.39,"v":-2.42},{"t":1965.47,"v":-3.56},{"t":1965.59,"v":-2.19},{"t":1965.67,"v":-2.42},{"t":1965.79,"v":-1.74},{"t":1965.87,"v":-2.65},{"t":1965.99,"v":-1.74},{"t":1966.07,"v":-1.74},{"t":1966.19,"v":-1.16},{"t":1966.27,"v":-0.82},{"t":1966.39,"v":0.32},{"t":1966.51,"v":0.43},{"t":1966.59,"v":-0.59},{"t":1966.71,"v":0.89},{"t":1966.79,"v":0.89},{"t":1966.87,"v":-0.82},{"t":1966.99,"v":2.95},{"t":1967.07,"v":-0.82},{"t":1967.19,"v":0.78},{"t":1967.27,"v":-0.59},{"t":1967.39,"v":0.55},{"t":1967.51,"v":-0.59},{"t":1967.59,"v":0.89},{"t":1967.71,"v":1.0},{"t":1967.79,"v":-1.05},{"t":1967.87,"v":-1.39},{"t":1967.99,"v":1.35},{"t":1968.07,"v":1.8},{"t":1968.19,"v":-0.82},{"t":1968.27,"v":1.8},{"t":1968.38,"v":1.23},{"t":1968.46,"v":1.0},{"t":1968.58,"v":-0.82},{"t":1968.7,"v":-1.05},{"t":1968.78,"v":-1.28},{"t":1968.9,"v":-1.74},{"t":1968.98,"v":-3.22},{"t":1969.1,"v":-1.74},{"t":1969.18,"v":-1.05},{"t":1969.3,"v":-1.28},{"t":1969.38,"v":-1.51},{"t":1969.5,"v":-1.74},{"t":1969.62,"v":-2.19},{"t":1969.7,"v":0.32},{"t":1969.78,"v":-1.74},{"t":1969.86,"v":0.43},{"t":1969.98,"v":-1.96},{"t":1970.1,"v":-2.65},{"t":1970.18,"v":-1.05},{"t":1970.26,"v":-0.59},{"t":1970.38,"v":0.55},{"t":1970.5,"v":0.78},{"t":1970.58,"v":1.0},{"t":1970.7,"v":1.69},{"t":1970.78,"v":2.03},{"t":1970.9,"v":2.83},{"t":1970.98,"v":3.29},{"t":1971.1,"v":3.17},{"t":1971.18,"v":3.34},{"t":1971.3,"v":2.26},{"t":1971.38,"v":1.35},{"t":1971.46,"v":1.92},{"t":1971.58,"v":2.72},{"t":1971.66,"v":2.49},{"t":1971.78,"v":2.26},{"t":1971.86,"v":1.69},{"t":1971.98,"v":1.35},{"t":1972.1,"v":0.78},{"t":1972.17,"v":0.55},{"t":1972.29,"v":-1.74},{"t":1972.37,"v":-2.65},{"t":1972.49,"v":-2.42},{"t":1972.57,"v":-3.33},{"t":1972.69,"v":-2.88},{"t":1972.77,"v":-2.42},{"t":1972.89,"v":-2.88},{"t":1972.97,"v":-3.11},{"t":1973.09,"v":-1.74},{"t":1973.17,"v":-0.59},
{"t":1973.29,"v":0.89},{"t":1973.37,"v":1.12},{"t":1973.49,"v":1.35},{"t":1973.57,"v":1.92},{"t":1973.65,"v":3.06},{"t":1973.77,"v":3.97},{"t":1973.85,"v":4.66},{"t":1973.93,"v":3.97},{"t":1974.01,"v":3.4},{"t":1974.09,"v":3.29},{"t":1974.17,"v":2.95},{"t":1974.25,"v":1.92},{"t":1974.37,"v":1.35},{"t":1974.48,"v":1.46},{"t":1974.56,"v":1.8},{"t":1974.68,"v":1.23},{"t":1974.76,"v":0.89},{"t":1974.88,"v":-1.28},{"t":1974.96,"v":0.89},{"t":1975.08,"v":1.46},{"t":1975.16,"v":1.8},{"t":1975.28,"v":2.83},{"t":1975.36,"v":3.29},{"t":1975.48,"v":3.4},{"t":1975.6,"v":3.86},{"t":1975.68,"v":3.63},{"t":1975.76,"v":3.52},{"t":1975.84,"v":2.83},{"t":1975.96,"v":2.49},{"t":1976.04,"v":2.6},{"t":1976.16,"v":1.35},{"t":1976.28,"v":0.55},{"t":1976.4,"v":-0.82},{"t":1976.56,"v":-2.19},{"t":1976.68,"v":-0.82},{"t":1976.76,"v":0.78},{"t":1976.88,"v":-1.05},{"t":1976.96,"v":1.46},{"t":1977.04,"v":-1.28},{"t":1977.16,"v":-1.51},{"t":1977.28,"v":-1.74},{"t":1977.36,"v":-2.19},{"t":1977.44,"v":-2.42},{"t":1977.56,"v":-2.19},{"t":1977.68,"v":-2.19},{"t":1977.76,"v":-1.74},{"t":1977.88,"v":-2.42},{"t":1978.0,"v":-5.62},{"t":1978.08,"v":-2.42},{"t":1978.15,"v":-1.74},{"t":1978.27,"v":0.78},{"t":1978.35,"v":2.03},{"t":1978.47,"v":1.12},{"t":1978.55,"v":0.55},{"t":1978.67,"v":-0.82},{"t":1978.75,"v":-1.05},{"t":1978.87,"v":-0.82},{"t":1978.95,"v":1.0},{"t":1979.07,"v":-1.05},{"t":1979.15,"v":0.89},{"t":1979.27,"v":-0.59},{"t":1979.35,"v":-1.05},{"t":1979.43,"v":2.03},{"t":1979.55,"v":-0.59},{"t":1979.67,"v":0.55},{"t":1979.75,"v":-0.82},{"t":1979.87,"v":-1.05},{"t":1979.95,"v":0.43},{"t":1980.07,"v":-1.28},{"t":1980.15,"v":-1.96},{"t":1980.27,"v":-1.05},{"t":1980.35,"v":-0.82},{"t":1980.47,"v":-0.82},{"t":1980.55,"v":-0.82},{"t":1980.67,"v":-0.71},{"t":1980.75,"v":-0.59},{"t":1980.87,"v":-0.94},{"t":1980.95,"v":-0.82},{"t":1981.03,"v":0.32},{"t":1981.15,"v":-3.33},{"t":1981.27,"v":-1.05},{"t":1981.35,"v":1.69},{"t":1981.43,"v":-0.59},{"t":1981.55,"v":1.0},{"t":1981.66,"v":-0.82},{"t":1981.74,"v":0.66},{"t":1981.86,"v":-0.59},{"t":1981.94,"v":2.15},{"t":1982.06,"v":-0.82},{"t":1982.14,"v":-1.05},{"t":1982.22,"v":-1.28},{"t":1982.3,"v":-1.74},{"t":1982.38,"v":-1.96},{"t":1982.46,"v":-2.42},{"t":1982.54,"v":-2.88},{"t":1982.62,"v":-3.22},{"t":1982.7,"v":-3.56},{"t":1982.78,"v":-4.02},{"t":1982.86,"v":-4.7},{"t":1982.94,"v":-5.16},{"t":1983.02,"v":-6.19},{"t":1983.1,"v":-7.56},{"t":1983.18,"v":-5.16},{"t":1983.26,"v":-4.02},{"t":1983.34,"v":-1.74},{"t":1983.42,"v":0.66},{"t":1983.54,"v":-0.59},{"t":1983.66,"v":1.69},{"t":1983.74,"v":-0.82},{"t":1983.86,"v":0.78},{"t":1983.94,"v":0.89},{"t":1984.06,"v":-0.82},{"t":1984.14,"v":0.78},{"t":1984.26,"v":-1.05},{"t":1984.34,"v":-1.16},{"t":1984.42,"v":1.0},{"t":1984.54,"v":-0.71},{"t":1984.66,"v":0.55},{"t":1984.74,"v":-1.05},{"t":1984.86,"v":-0.82},{"t":1984.94,"v":-1.51},{"t":1985.06,"v":1.0},{"t":1985.13,"v":1.69},{"t":1985.25,"v":-1.16},{"t":1985.33,"v":0.89},{"t":1985.41,"v":-0.82},{"t":1985.53,"v":1.46},{"t":1985.65,"v":-1.05},{"t":1985.73,"v":0.78},{"t":1985.85,"v":1.12},{"t":1985.97,"v":1.46},{"t":1986.05,"v":-2.53},{"t":1986.13,"v":-1.05},{"t":1986.21,"v":0.66},{"t":1986.33,"v":-0.82},{"t":1986.45,"v":1.12},{"t":1986.53,"v":-1.05},{"t":1986.65,"v":0.89},{"t":1986.73,"v":0.78},{"t":1986.85,"v":-1.28},{"t":1986.93,"v":-1.74},{"t":1987.01,"v":-2.88},{"t":1987.09,"v":-2.65},{"t":1987.17,"v":-3.33},{"t":1987.25,"v":-2.88},{"t":1987.33,"v":-2.76},{"t":1987.45,"v":-2.65},{"t":1987.53,"v":-2.42},{"t":1987.65,"v":-1.96},{"t":1987.73,"v":-1.74},{"t":1987.85,"v":-1.28},{"t":1987.93,"v":-1.16},{"t":1988.05,"v":-0.59},{"t":1988.17,"v":0.89},{"t":1988.25,"v":1.46},{"t":1988.33,"v":1.92},{"t":1988.41,"v":2.6},{"t":1988.53,"v":3.29},{"t":1988.61,"v":3.06},{"t":1988.69,"v":3.4},{"t":1988.77,"v":2.83},{"t":1988.84,"v":2.83},{"t":1988.92,"v":2.49},{"t":1989.0,"v":2.6},{"t":1989.12,"v":2.37},{"t":1989.2,"v":2.15},{"t":1989.32,"v":1.69},{"t":1989.4,"v":1.12},{"t":1989.52,"v":0.78},{"t":1989.64,"v":0.55},{"t":1989.72,"v":-0.59},{"t":1989.84,"v":-0.82},{"t":1989.92,"v":-1.16},{"t":1990.04,"v":-3.9},{"t":1990.12,"v":-1.05},{"t":1990.2,"v":-0.82},{"t":1990.32,"v":-0.59},{"t":1990.44,"v":-0.71},{"t":1990.52,"v":-0.82},{"t":1990.6,"v":0.32},{"t":1990.72,"v":-1.28},{"t":1990.84,"v":-0.82},{"t":1990.92,"v":-0.59},{"t":1991.0,"v":1.0},{"t":1991.12,"v":-0.82},{"t":1991.24,"v":-1.16},{"t":1991.32,"v":-1.51},{"t":1991.44,"v":-1.74},{"t":1991.52,"v":-1.96},{"t":1991.64,"v":-2.19},{"t":1991.72,"v":-2.42},{"t":1991.8,"v":-2.88},{"t":1991.88,"v":-2.65},{"t":1991.96,"v":-3.56},{"t":1992.04,"v":-5.62},{"t":1992.12,"v":-2.88},{"t":1992.2,"v":-2.42},{"t":1992.28,"v":-1.96},{"t":1992.36,"v":-1.74},{"t":1992.44,"v":-1.51},{"t":1992.52,"v":-1.28},{"t":1992.64,"v":-2.19},{"t":1992.71,"v":-2.88},{"t":1992.79,"v":-2.19},{"t":1992.91,"v":-1.74},{"t":1992.99,"v":-2.19},{"t":1993.11,"v":-2.42},{"t":1993.19,"v":-1.74},{"t":1993.31,"v":-2.08},{"t":1993.39,"v":-1.74},{"t":1993.51,"v":-1.74},{"t":1993.63,"v":-1.51},{"t":1993.71,"v":-1.51},{"t":1993.79,"v":-1.16},{"t":1993.91,"v":-0.82},{"t":1994.03,"v":-1.28},{"t":1994.11,"v":-1.96},{"t":1994.19,"v":-2.19},{"t":1994.31,"v":-2.42},{"t":1994.43,"v":-2.88},{"t":1994.51,"v":-2.76},{"t":1994.59,"v":-2.99},{"t":1994.67,"v":-2.19},{"t":1994.75,"v":-1.74},{"t":1994.83,"v":-1.28},{"t":1994.91,"v":-1.16},{"t":1995.03,"v":-0.82},{"t":1995.11,"v":-1.62},{"t":1995.23,"v":-0.59},{"t":1995.31,"v":-0.82},{"t":1995.43,"v":0.55},{"t":1995.51,"v":-1.05},{"t":1995.63,"v":0.78},{"t":1995.71,"v":-0.59},{"t":1995.82,"v":-0.82},{"t":1995.9,"v":-0.59},{"t":1996.02,"v":1.12},{"t":1996.1,"v":0.89},{"t":1996.18,"v":1.35},{"t":1996.26,"v":-0.82},{"t":1996.34,"v":1.58},{"t":1996.42,"v":1.0},{"t":1996.5,"v":0.89},{"t":1996.58,"v":-0.59},{"t":1996.7,"v":1.23},{"t":1996.78,"v":1.0},{"t":1996.9,"v":1.8},{"t":1997.02,"v":2.6},{"t":1997.14,"v":-0.82},{"t":1997.22,"v":-1.74},{"t":1997.3,"v":-2.42},{"t":1997.38,"v":-2.88},{"t":1997.46,"v":-2.88},{"t":1997.54,"v":-3.11},{"t":1997.62,"v":-3.33},{"t":1997.7,"v":-3.45},{"t":1997.78,"v":-3.22},{"t":1997.86,"v":-4.02},{"t":1997.94,"v":-4.59},{"t":1998.02,"v":-5.67},{"t":1998.1,"v":-4.02},{"t":1998.18,"v":-1.74},{"t":1998.26,"v":-0.82},{"t":1998.34,"v":0.55},{"t":1998.42,"v":1.69},{"t":1998.5,"v":2.03},{"t":1998.58,"v":1.92},{"t":1998.66,"v":2.26},{"t":1998.74,"v":2.15},{"t":1998.82,"v":2.83},{"t":1998.9,"v":3.17},{"t":1998.98,"v":2.83},{"t":1999.06,"v":2.37},{"t":1999.14,"v":1.92},{"t":1999.22,"v":1.46},{"t":1999.3,"v":1.23},{"t":1999.38,"v":1.0},{"t":1999.46,"v":1.46},{"t":1999.53,"v":1.69},{"t":1999.61,"v":1.46},{"t":1999.69,"v":1.23},{"t":1999.77,"v":1.69},{"t":1999.85,"v":2.49},{"t":1999.93,"v":2.37},{"t":2000.01,"v":2.6},{"t":2000.09,"v":2.26},{"t":2000.17,"v":2.15},{"t":2000.25,"v":1.46},{"t":2000.33,"v":0.89},{"t":2000.41,"v":-0.82},{"t":2000.49,"v":1.12},{"t":2000.57,"v":1.8},{"t":2000.65,"v":2.26},{"t":2000.73,"v":3.17},{"t":2000.81,"v":2.37},{"t":2000.89,"v":1.69},{"t":2000.97,"v":1.0},{"t":2001.05,"v":0.32},{"t":2001.17,"v":-0.59},{"t":2001.29,"v":-0.82},{"t":2001.37,"v":-1.05},{"t":2001.49,"v":-1.16},{"t":2001.61,"v":-1.28},{"t":2001.69,"v":-1.51},{"t":2001.81,"v":0.78},{"t":2001.89,"v":-0.82},{"t":2002.0,"v":1.46},{"t":2002.09,"v":-1.74},{"t":2002.17,"v":-1.51},{"t":2002.29,"v":-1.96},{"t":2002.41,"v":-1.74},{"t":2002.49,"v":-2.42},{"t":2002.57,"v":-2.19},{"t":2002.69,"v":-1.74},{"t":2002.81,"v":-1.96},{"t":2002.89,"v":-1.51},{"t":2002.97,"v":-1.74},{"t":2003.09,"v":-1.16},{"t":2003.21,"v":-1.62},{"t":2003.29,"v":-1.96},{"t":2003.37,"v":-1.51},{"t":2003.49,"v":0.32},{"t":2003.6,"v":-1.51},{"t":2003.68,"v":-1.28},{"t":2003.76,"v":1.69},{"t":2003.88,"v":-2.76},{"t":2003.96,"v":1.69},{"t":2004.08,"v":-1.28},{"t":2004.16,"v":-1.74},{"t":2004.28,"v":1.12},{"t":2004.36,"v":-1.74},{"t":2004.48,"v":-1.05}
]
},
"vconcat": [
{
  "width": 1044, "height": 410,
  "layer": [
    {"data": {"values": [{}]}, "mark": {"type": "rule", "color": "#666", "strokeWidth": 1.5},
     "encoding": {"x": {"datum": 1854.29, "type": "quantitative", "axis": null}, "y": {"datum": 4.96, "type": "quantitative", "axis": null}, "y2": {"datum": -12.92}}},
    {"data": {"values": [{}]}, "mark": {"type": "rule", "color": "#666", "strokeWidth": 1.5},
     "encoding": {"x": {"datum": 2014.26, "type": "quantitative", "axis": null}, "y": {"datum": 4.96, "type": "quantitative", "axis": null}, "y2": {"datum": -12.92}}},
    {"data": {"values": [{}]}, "mark": {"type": "rule", "color": "#666", "strokeWidth": 1.5},
     "encoding": {"x": {"datum": 1854.29, "type": "quantitative", "axis": null}, "x2": {"datum": 2014.26}, "y": {"datum": 4.96, "type": "quantitative", "axis": null}}},
    {"data": {"name": "sst"},
     "mark": {"type": "area", "opacity": 1, "fill": {"gradient": "linear", "x1": 0, "y1": 0, "x2": 0, "y2": 1,
        "stops": [{"offset": 0, "color": "#ee2e2e"}, {"offset": 0.5847, "color": "#ee2e2e"}, {"offset": 0.5847, "color": "#3a55a5"}, {"offset": 1, "color": "#3a55a5"}]}},
     "encoding": {
       "x": {"field": "t", "type": "quantitative", "scale": {"domain": [1880, 2005], "nice": false, "zero": false},
             "axis": {"orient": "bottom", "values": [1880,1890,1900,1910,1920,1930,1940,1950,1960,1970,1980,1990,2000], "labelExpr": "'' + datum.value", "labelPadding": 20, "title": null}},
       "y": {"field": "v", "type": "quantitative", "scale": {"domain": [-3, 4], "nice": false, "zero": false},
             "axis": {"orient": "left", "values": [-3,-2,-1,0,1,2,3,4], "labelExpr": "'' + datum.value", "labelPadding": 29, "title": "SST Anomalies [ºC]",
                      "titleX": -61, "titleY": 205, "titleAngle": -90, "titleAlign": "center", "titleBaseline": "alphabetic"}},
       "y2": {"datum": 0}}},
    {"data": {"values": [{}]}, "mark": {"type": "rule", "color": "#222", "strokeWidth": 1},
     "encoding": {"y": {"datum": 0, "type": "quantitative", "axis": null}}},
    {"data": {"name": "sst"}, "mark": {"type": "line", "color": "#000", "strokeWidth": 1},
     "encoding": {
       "x": {"field": "t", "type": "quantitative", "axis": {"orient": "top", "values": [1880,1890,1900,1910,1920,1930,1940,1950,1960,1970,1980,1990,2000], "labels": false, "title": null}},
       "y": {"field": "v", "type": "quantitative", "axis": {"orient": "right", "values": [-3,-2,-1,0,1,2,3,4], "labels": false, "title": null}}}},
    {"data": {"values": [{}]}, "mark": {"type": "text", "text": "a)", "font": "DejaVu Sans", "fontWeight": "bold", "fontSize": 31, "align": "left", "baseline": "alphabetic", "color": "#000"},
     "encoding": {"x": {"datum": 1861.18, "type": "quantitative", "axis": null}, "y": {"datum": 3.706, "type": "quantitative", "axis": null}}},
    {"data": {"values": [{}]}, "mark": {"type": "text", "text": "tropical Pacific SST", "font": "DejaVu Sans", "fontWeight": "bold", "fontSize": 26, "align": "left", "baseline": "alphabetic", "color": "#000"},
     "encoding": {"x": {"datum": 1882.85, "type": "quantitative", "axis": null}, "y": {"datum": 3.205, "type": "quantitative", "axis": null}}}
  ]
},
{
  "width": 1044, "height": 409,
  "layer": [
    {"data": {"name": "soi"}, "mark": {"type": "rule", "strokeWidth": 1.6},
     "encoding": {
       "x": {"field": "t", "type": "quantitative", "scale": {"domain": [1880, 2005], "nice": false, "zero": false},
             "axis": {"orient": "bottom", "values": [1880,1890,1900,1910,1920,1930,1940,1950,1960,1970,1980,1990,2000], "labelExpr": "'' + datum.value", "labelPadding": 20,
                      "title": "Time [Years AD]", "titleX": 481, "titleY": 70, "titleAlign": "center", "titleBaseline": "alphabetic"}},
       "y": {"field": "v", "type": "quantitative", "scale": {"domain": [-8, 6], "nice": false, "zero": false},
             "axis": {"orient": "left", "values": [-8,-6,-4,-2,0,2,4,6], "labelExpr": "'' + datum.value", "labelPadding": 29, "title": "SOI",
                      "titleX": -61, "titleY": 204.5, "titleAngle": -90, "titleAlign": "center", "titleBaseline": "alphabetic"}},
       "y2": {"datum": 0},
       "color": {"condition": {"test": "datum.v > 0", "value": "#3a50a5"}, "value": "#ef2f2f"}}},
    {"data": {"values": [{}]}, "mark": {"type": "rule", "color": "#000", "strokeWidth": 1.5},
     "encoding": {"y": {"datum": 0, "type": "quantitative", "axis": null}}},
    {"data": {"values": [{}]}, "mark": {"type": "text", "text": "b)", "font": "DejaVu Sans", "fontWeight": "bold", "fontSize": 31, "align": "left", "baseline": "alphabetic", "color": "#000"},
     "encoding": {"x": {"datum": 1861.18, "type": "quantitative", "axis": null}, "y": {"datum": 5.136, "type": "quantitative", "axis": null}}},
    {"data": {"values": [{}]}, "mark": {"type": "text", "text": "Southern Oscillation Index (SOI)", "font": "DejaVu Sans", "fontWeight": "bold", "fontSize": 26, "align": "left", "baseline": "alphabetic", "color": "#000"},
     "encoding": {
       "x": {"datum": 1882.6, "type": "quantitative", "axis": {"orient": "top", "values": [1880,1890,1900,1910,1920,1930,1940,1950,1960,1970,1980,1990,2000], "labels": false, "title": null}},
       "y": {"datum": -6.766, "type": "quantitative", "axis": {"orient": "right", "values": [-8,-6,-4,-2,0,2,4,6], "labels": false, "title": null}}}}
  ]
}
]
}
